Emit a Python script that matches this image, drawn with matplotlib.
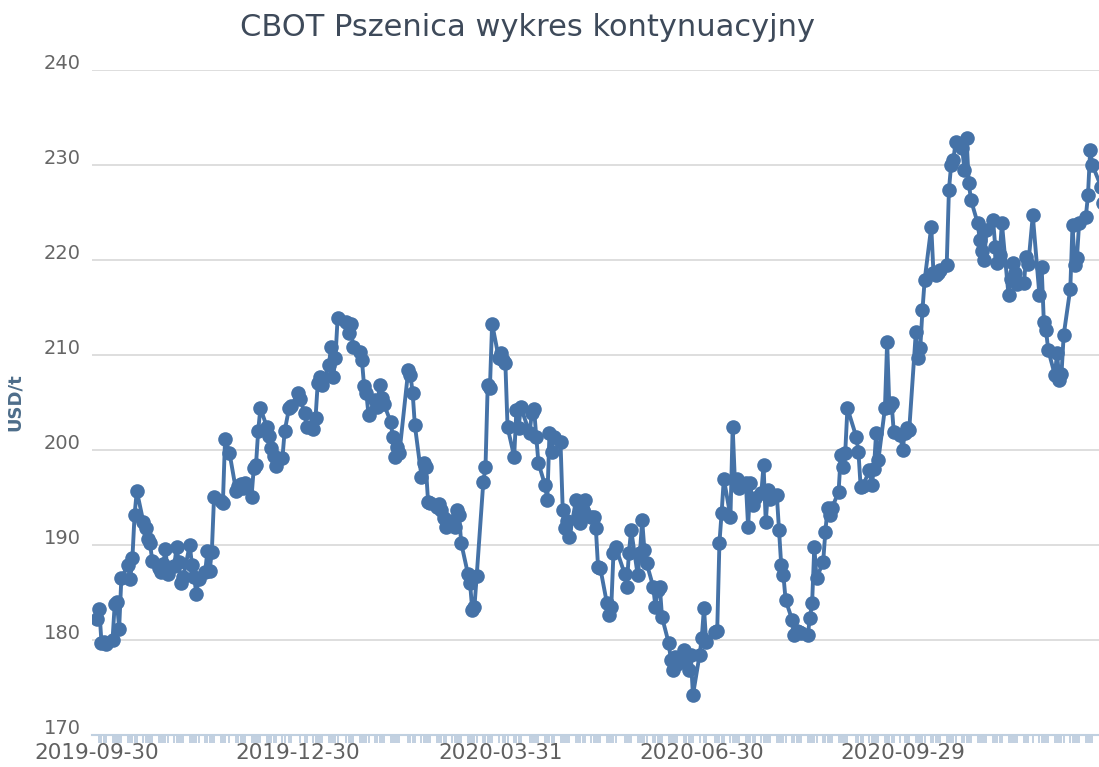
import matplotlib
matplotlib.use("Agg")
import matplotlib.pyplot as plt
import matplotlib.dates as mdates
from matplotlib.ticker import FixedLocator
from matplotlib.transforms import ScaledTranslation
import pandas as pd

TITLE = "CBOT Pszenica wykres kontynuacyjny"
Y_LABEL = "USD/t"
START = "2019-09-30"
TICK_DATES = ["2019-09-30", "2019-12-30", "2020-03-31", "2020-06-30", "2020-09-29"]
Y_TICKS = [170, 180, 190, 200, 210, 220, 230, 240]
# exchange closures in the period
HOLIDAYS = ["2019-11-28", "2019-12-25", "2020-01-01", "2020-01-20", "2020-02-17",
            "2020-04-10", "2020-05-25", "2020-07-03", "2020-09-07", "2020-11-26",
            "2020-12-25"]

# daily settlement, USD/t
price_q4_2019 = [
    182.2, 183.3, 179.7, 179.8, 179.6, 180.0, 183.8, 184.0, 181.2, 186.5,
    187.9, 186.4, 188.6, 193.2, 195.7, 192.4, 191.8, 190.6, 190.2, 188.3,
    187.6, 187.2, 188.0, 189.6, 187.0, 187.8, 189.8, 188.2, 186.0, 186.6,
    190.0, 187.9, 186.6, 184.8, 186.4, 187.2, 189.4, 187.3, 189.3, 195.1,
    194.6, 194.4, 201.2, 199.7, 195.7, 196.2, 196.4, 196.0, 196.5, 195.1,
    198.1, 198.4, 202.0, 204.4, 202.4, 201.5, 200.2, 199.4, 198.3, 199.2,
    202.0, 204.4,
]
price_q1_2020 = [
    204.6, 206.0, 205.4, 203.9, 202.4, 202.2, 203.4, 207.1, 207.7, 206.8,
    208.9, 210.8, 207.7, 209.7, 213.9, 213.5, 212.3, 213.3, 210.8, 210.3,
    209.5, 206.7, 206.0, 203.7, 205.3, 204.5, 206.8, 205.5, 204.8, 203.0,
    201.4, 199.3, 200.3, 199.7, 208.4, 207.9, 206.0, 202.6, 197.2, 198.6,
    198.2, 194.5, 194.4, 194.0, 194.3, 193.7, 192.8, 191.9, 192.5, 191.9,
    193.7, 193.2, 190.2, 187.0, 186.0, 183.2, 183.5, 186.7, 196.6, 198.2,
    206.8, 206.5, 213.3, 209.7, 210.2, 209.5, 209.2,
]
price_q2_2020 = [
    202.4, 199.3, 204.2, 202.3, 204.5, 201.8, 203.9, 204.3, 201.4, 198.6,
    196.3, 194.7, 201.8, 199.8, 201.4, 200.8, 193.7, 191.8, 192.5, 190.8,
    194.7, 193.0, 192.3, 193.7, 194.7, 193.0, 192.9, 191.8, 187.7, 187.6,
    183.9, 182.6, 183.5, 189.2, 189.8, 187.0, 185.6, 189.2, 191.6, 186.8,
    189.2, 192.6, 189.5, 188.1, 185.6, 183.5, 185.3, 185.6, 182.4, 179.7,
    177.9, 176.8, 178.2, 177.5, 178.9, 178.0, 176.8, 178.4, 174.2, 178.4,
    180.2, 183.4, 179.8, 180.8, 181.0,
]
price_q3_2020 = [
    190.2, 193.4, 197.0, 193.0, 202.4, 196.8, 197.0, 196.0, 196.5, 191.9,
    196.5, 194.2, 195.0, 195.5, 198.4, 192.4, 195.8, 194.8, 195.3, 191.6,
    187.9, 186.8, 184.2, 182.1, 180.5, 181.0, 180.8, 180.7, 180.5, 182.3,
    183.9, 189.8, 186.5, 188.2, 191.4, 193.9, 193.2, 193.9, 195.6, 199.5,
    198.2, 199.7, 204.4, 201.4, 199.8, 196.1, 196.2, 197.9, 196.3, 198.0,
    201.8, 198.9, 204.4, 211.4, 204.5, 205.0, 201.9, 201.6, 200.0, 201.8,
    202.3, 202.1,
]
price_q4_2020 = [
    212.4, 209.7, 210.7, 214.7, 217.9, 223.5, 218.6, 218.4, 218.6, 219.0,
    219.5, 227.4, 230.0, 230.5, 232.4, 231.8, 229.5, 232.8, 228.1, 226.3,
    223.9, 222.1, 221.0, 220.0, 223.2, 224.2, 221.4, 219.7, 220.5, 223.9,
    216.3, 218.0, 219.7, 218.6, 217.5, 217.6, 220.3, 219.6, 224.7, 216.3,
    219.3, 213.5, 212.6, 210.5, 207.9, 210.2, 207.4, 208.0, 212.1, 217.0,
    223.7, 219.5, 220.2, 223.9, 224.5, 226.8, 231.6, 230.0, 227.7, 226.0,
]

price = price_q4_2019 + price_q1_2020 + price_q2_2020 + price_q3_2020 + price_q4_2020
dates = pd.bdate_range(START, periods=len(price), freq="C", holidays=HOLIDAYS)

W, H = 1099, 767
fig = plt.figure(figsize=(W / 100, H / 100), dpi=100)
ax = fig.add_axes([92 / W, 1 - 735 / H, 1 - 92 / W, (735 - 70) / H])

LINE = "#4572a7"
ax.plot(dates, price, color=LINE, lw=2.8, marker="o", ms=10.5, mew=0, zorder=3)

ax.set_ylim(170, 240)
ax.set_yticks(Y_TICKS)
t0 = pd.Timestamp(START)
ax.set_xlim(t0 - pd.Timedelta(days=2.3), t0 + pd.Timedelta(days=454))

ax.grid(axis="y", color="#d8d8d8", lw=1.2)
ax.set_axisbelow(True)
for s in ["top", "right", "left"]:
    ax.spines[s].set_visible(False)
ax.spines["bottom"].set_color("#c0d0e0")
ax.spines["bottom"].set_linewidth(1.5)

ax.xaxis.set_major_locator(FixedLocator(mdates.date2num(pd.to_datetime(TICK_DATES))))
ax.xaxis.set_major_formatter(mdates.DateFormatter("%Y-%m-%d"))
ax.xaxis.set_minor_locator(FixedLocator(mdates.date2num(dates)))
ax.tick_params(axis="x", which="major", length=0, pad=6, labelsize=15.5,
               labelcolor="#606060")
ax.tick_params(axis="x", which="minor", length=6, width=1.2, color="#b8c8dc")
ax.tick_params(axis="y", length=0, pad=8, labelsize=14, labelcolor="#666666")
for lab in ax.get_yticklabels():
    lab.set_transform(lab.get_transform() + ScaledTranslation(0, 6 / 72, fig.dpi_scale_trans))

ax.set_ylabel(Y_LABEL, fontsize=13, fontweight="bold", color="#4d6d8a")
ax.yaxis.set_label_coords(-0.068, 0.5)

fig.text(528 / W, 1 - 28 / H, TITLE, ha="center", va="center", fontsize=22,
         color="#3e4a5a")

fig.savefig("out.png", dpi=100)
